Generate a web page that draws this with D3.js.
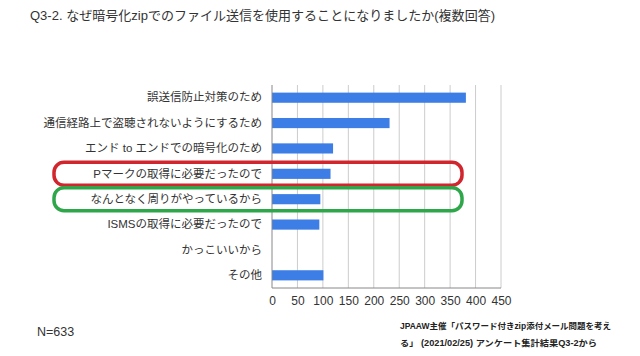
<!DOCTYPE html>
<html><head><meta charset="utf-8">
<script src="https://cdn.jsdelivr.net/npm/d3@7"></script>
<style>body{margin:0;background:#fff}svg{display:block}</style>
</head><body>
<svg id="c" width="640" height="356"></svg>
<script>
const categories = ["誤送信防止対策のため","通信経路上で盗聴されないようにするため","エンド to エンドでの暗号化のため","Pマークの取得に必要だったので","なんとなく周りがやっているから","ISMSの取得に必要だったので","かっこいいから","その他"];
const values = [381, 231, 120, 115, 95, 93, 0, 101];
const xTicks = [0,50,100,150,200,250,300,350,400,450];
const titleText = "Q3-2. なぜ暗号化zipでのファイル送信を使用することになりましたか(複数回答)";
const nText = "N=633";
const sourceLines = ["JPAAW主催「パスワード付きzip添付メール問題を考え","る」 (2021/02/25) アンケート集計結果Q3-2から"];
const highlights = [{cat:"Pマークの取得に必要だったので", color:"#d1262e"},{cat:"なんとなく周りがやっているから", color:"#2ea64a"}];

const svg = d3.select("#c");
const font = "Arial, 'Liberation Sans', 'Noto Sans CJK JP', sans-serif";
const x = d3.scaleLinear().domain([0,450]).range([272,501]);
const y = d3.scaleBand().domain(categories).range([85,288]).paddingInner(0.6).paddingOuter(0.3);

svg.append("text").attr("x",30).attr("y",20).attr("font-family",font).attr("font-size",13)
  .attr("fill","#333").attr("textLength",465).attr("lengthAdjust","spacingAndGlyphs").text(titleText);

// grid
svg.append("g").selectAll("line").data(xTicks.slice(1)).join("line")
  .attr("x1",d=>x(d)).attr("x2",d=>x(d)).attr("y1",85).attr("y2",288)
  .attr("stroke","#cccccc").attr("stroke-width",1);
// bars
svg.append("g").selectAll("rect").data(values).join("rect")
  .attr("x",x(0)).attr("y",(d,i)=>y(categories[i])).attr("width",d=>x(d)-x(0)).attr("height",y.bandwidth())
  .attr("fill","#3c7de6");
// axes
svg.append("line").attr("x1",x(0)).attr("x2",x(0)).attr("y1",85).attr("y2",288).attr("stroke","#888");
svg.append("line").attr("x1",x(0)).attr("x2",x(450)).attr("y1",288).attr("y2",288).attr("stroke","#888");
const xa = svg.append("g").attr("transform","translate(0,288)").call(d3.axisBottom(x).tickValues(xTicks).tickSize(0).tickPadding(8));
xa.select(".domain").remove();
xa.selectAll("text").attr("font-family",font).attr("font-size",12).attr("fill","#333");
const ya = svg.append("g").attr("transform","translate(272,0)").call(d3.axisLeft(y).tickSize(0).tickPadding(10));
ya.select(".domain").remove();
ya.selectAll("text").attr("font-family",font).attr("font-size",11.5).attr("fill","#333");

// highlight loops
highlights.forEach(h=>{
  const cy = y(h.cat)+y.bandwidth()/2;
  svg.append("rect").attr("x",54).attr("y",cy-11.5).attr("width",408).attr("height",23)
    .attr("rx",10).attr("ry",10).attr("fill","none").attr("stroke",h.color).attr("stroke-width",3.5);
});

svg.append("text").attr("x",37).attr("y",336).attr("font-family",font).attr("font-size",12.5).attr("fill","#333").text(nText);
const lens = [211, 197];
sourceLines.forEach((s,i)=>{
  svg.append("text").attr("x",400).attr("y",329+i*17).attr("font-family",font)
    .attr("font-size",8.5).attr("font-weight","bold").attr("fill","#222")
    .attr("textLength",lens[i]).attr("lengthAdjust","spacingAndGlyphs").text(s);
});
</script>
</body></html>
